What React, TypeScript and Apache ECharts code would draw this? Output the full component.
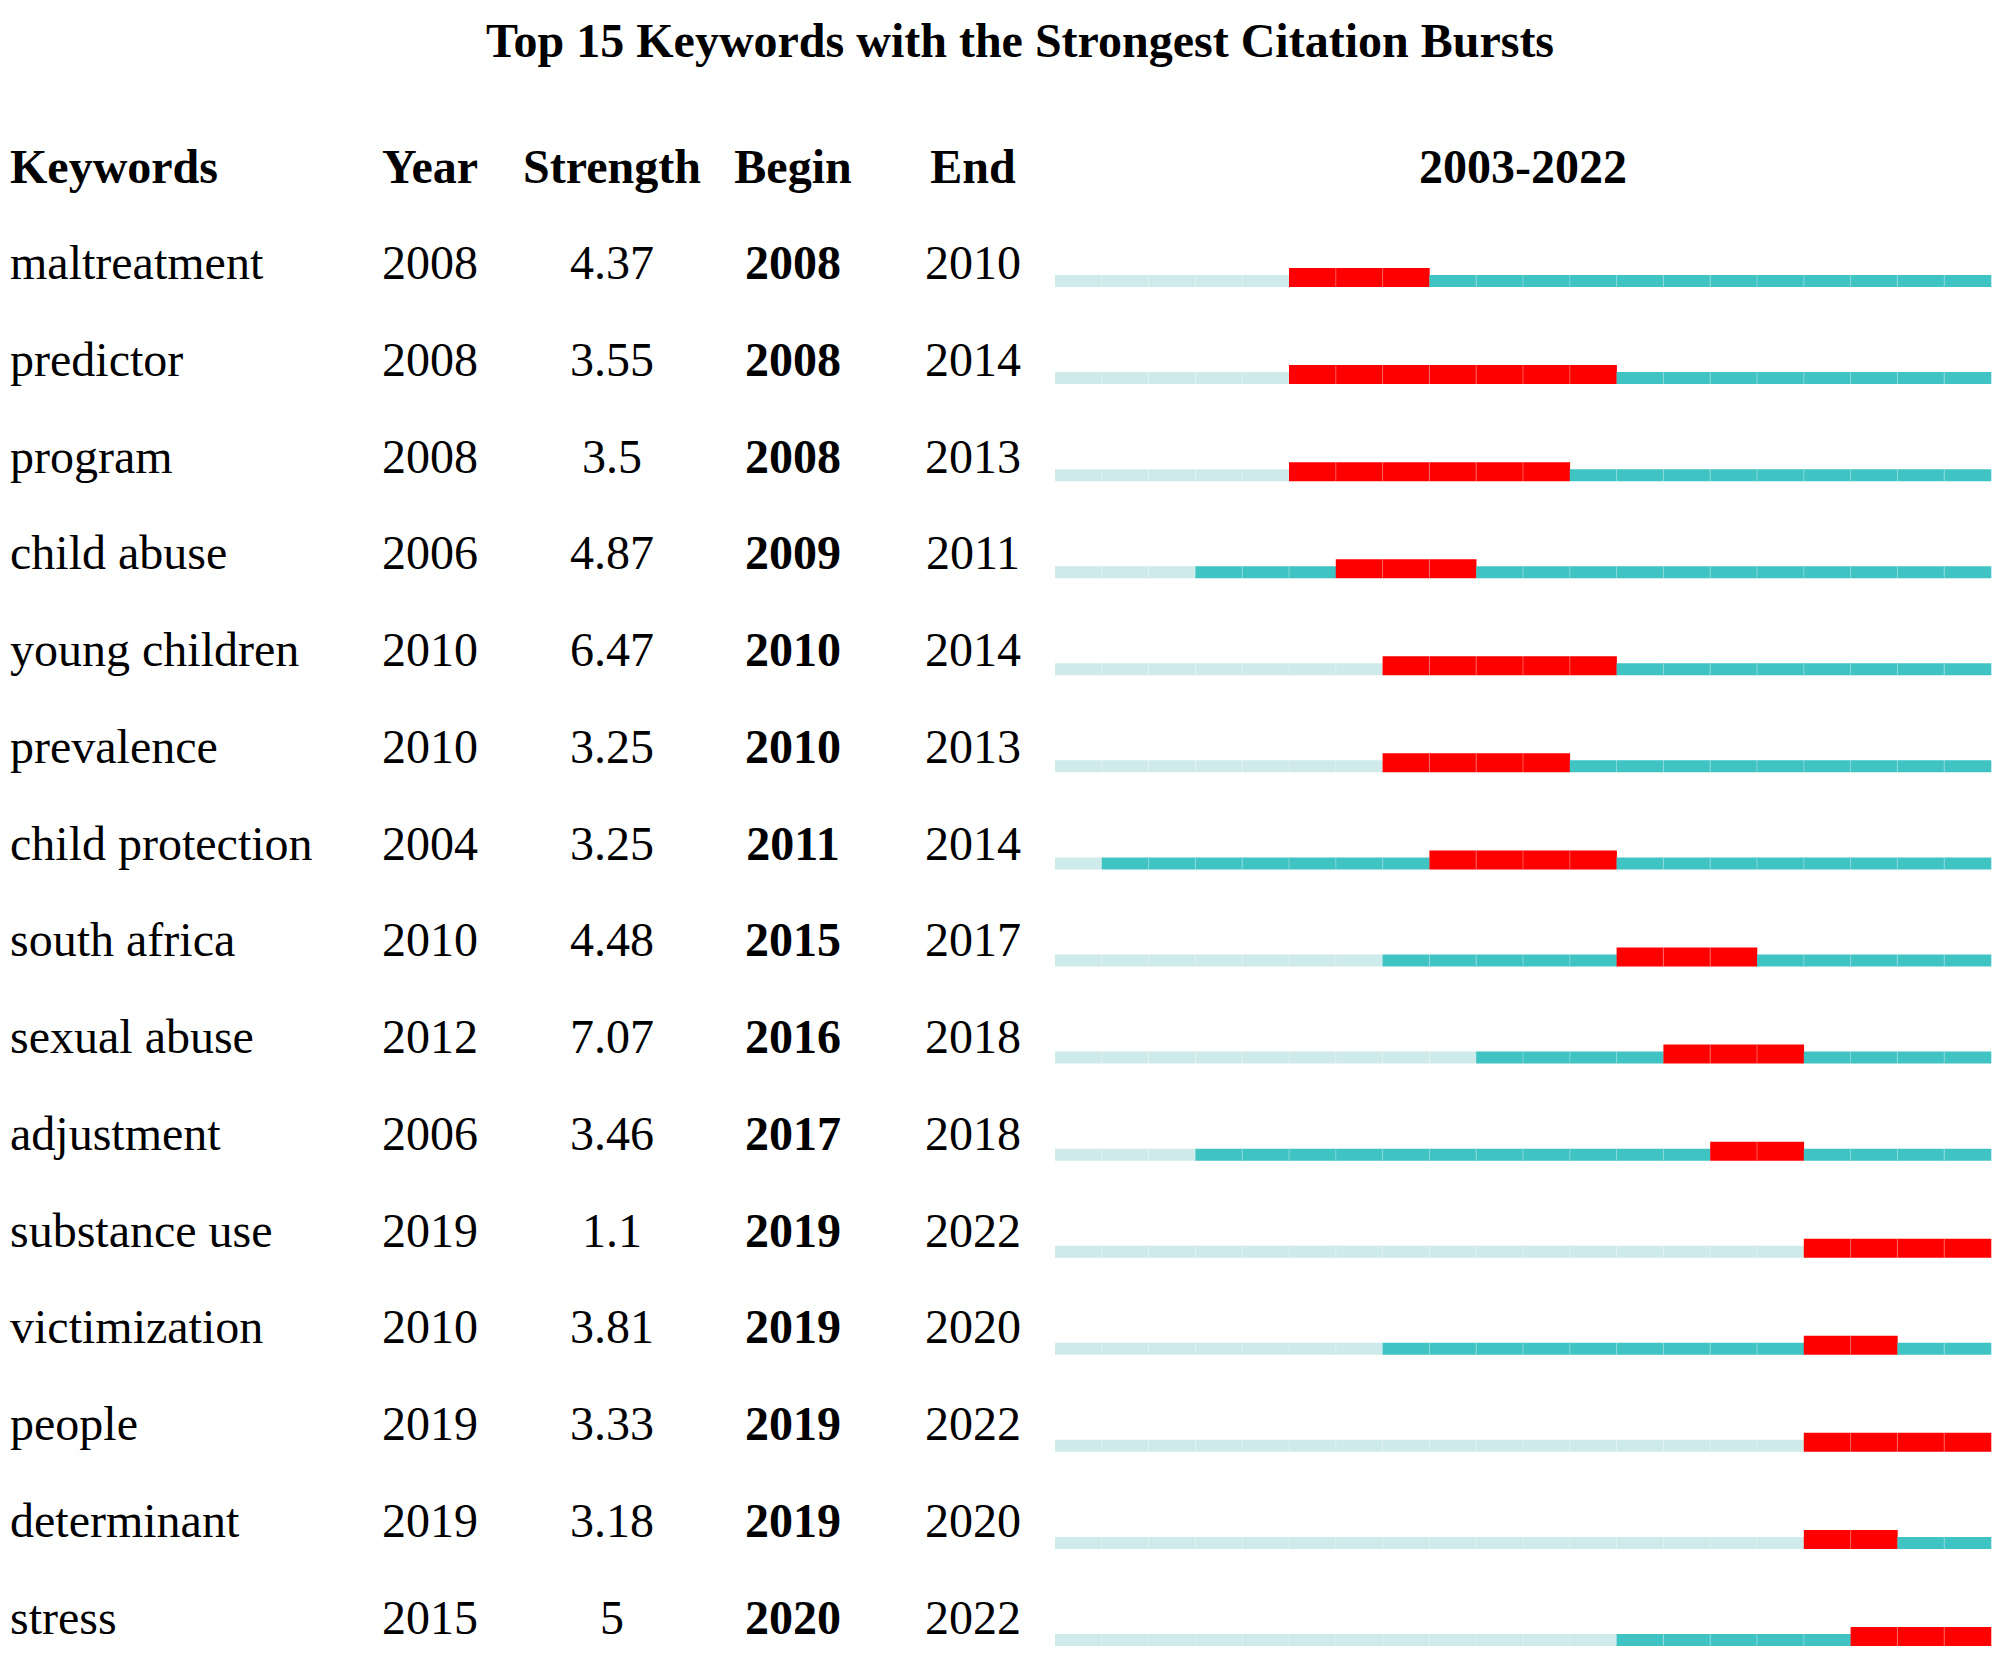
import React, { useEffect, useRef } from "react";
import * as echarts from "echarts";

const TITLE = "Top 15 Keywords with the Strongest Citation Bursts";
const HEADERS = ["Keywords", "Year", "Strength", "Begin", "End"];
const RANGE_LABEL = "2003-2022";
const YEAR_START = 2003;
const YEAR_END = 2022;

const keywords = [
  "maltreatment",
  "predictor",
  "program",
  "child abuse",
  "young children",
  "prevalence",
  "child protection",
  "south africa",
  "sexual abuse",
  "adjustment",
  "substance use",
  "victimization",
  "people",
  "determinant",
  "stress",
];
const years = [2008, 2008, 2008, 2006, 2010, 2010, 2004, 2010, 2012, 2006, 2019, 2010, 2019, 2019, 2015];
const strengths = [4.37, 3.55, 3.5, 4.87, 6.47, 3.25, 3.25, 4.48, 7.07, 3.46, 1.1, 3.81, 3.33, 3.18, 5];
const begins = [2008, 2008, 2008, 2009, 2010, 2010, 2011, 2015, 2016, 2017, 2019, 2019, 2019, 2019, 2020];
const ends = [2010, 2014, 2013, 2011, 2014, 2013, 2014, 2017, 2018, 2018, 2022, 2020, 2022, 2020, 2022];

const FONT = '"Liberation Serif", "Times New Roman", serif';
const RED = "#ff0000";
const TEAL = "#3fc3c3";
const LIGHT = "#cfeaea";
const FS = 48;

export default function App() {
  const ref = useRef<HTMLDivElement>(null);
  useEffect(() => {
    document.body.style.margin = "0";
    if (!ref.current) return;
    const chart = echarts.init(ref.current, null, { renderer: "svg" });

    const headerY = 166;
    const lastTextY = 1617;
    const firstBarY = 281;
    const lastBarY = 1640;
    const gridLeft = 1055;
    const gridRight = 9;

    const textAxis = (
      header: string,
      values: string[],
      center: number,
      align: string,
      boldAll: boolean
    ) => ({
      type: "category",
      gridIndex: 0,
      position: "left",
      inverse: true,
      boundaryGap: false,
      offset: gridLeft - center,
      data: [header, ...values],
      axisLine: { show: false },
      axisTick: { show: false },
      splitLine: { show: false },
      axisLabel: {
        show: true,
        interval: 0,
        margin: 0,
        align,
        verticalAlign: "middle",
        color: "#000",
        fontFamily: FONT,
        fontSize: FS,
        fontWeight: boldAll ? "bold" : "normal",
        formatter: (v: string, i: number) => (i === 0 ? `{h|${v}}` : v),
        rich: {
          h: { fontFamily: FONT, fontSize: FS, fontWeight: "bold", color: "#000" },
        },
      },
    });

    const option: any = {
      animation: false,
      backgroundColor: "#ffffff",
      title: {
        text: TITLE,
        left: 1020,
        top: 16,
        padding: 0,
        textAlign: "center",
        textStyle: { fontFamily: FONT, fontSize: FS, fontWeight: "bold", color: "#000" },
      },
      grid: [
        { left: gridLeft, right: gridRight, top: headerY, height: lastTextY - headerY },
        { left: gridLeft, right: gridRight, top: firstBarY, height: lastBarY - firstBarY },
      ],
      xAxis: [
        { type: "value", gridIndex: 0, show: false, min: 0, max: 1 },
        {
          type: "value",
          gridIndex: 1,
          min: YEAR_START,
          max: YEAR_END + 1,
          position: "top",
          name: RANGE_LABEL,
          nameLocation: "middle",
          nameGap: firstBarY - headerY,
          nameTextStyle: {
            fontFamily: FONT,
            fontSize: FS,
            fontWeight: "bold",
            color: "#000",
            verticalAlign: "middle",
          },
          axisLine: { show: false },
          axisTick: { show: false },
          axisLabel: { show: false },
          splitLine: { show: false },
        },
      ],
      yAxis: [
        textAxis(HEADERS[0], keywords, 10, "left", false),
        textAxis(HEADERS[1], years.map(String), 430, "center", false),
        textAxis(HEADERS[2], strengths.map(String), 612, "center", false),
        textAxis(HEADERS[3], begins.map(String), 793, "center", true),
        textAxis(HEADERS[4], ends.map(String), 973, "center", false),
        {
          type: "category",
          gridIndex: 1,
          inverse: true,
          boundaryGap: false,
          data: keywords,
          show: false,
        },
      ],
      series: [
        {
          type: "custom",
          xAxisIndex: 1,
          yAxisIndex: 5,
          encode: { x: 0, y: 1 },
          data: keywords.map((k, i) => [years[i], k, begins[i], ends[i]]),
          renderItem: (params: any, api: any) => {
            const start = api.value(0);
            const row = api.value(1);
            const b = api.value(2);
            const e = api.value(3);
            const children: any[] = [];
            let prevColor = "";
            for (let y = YEAR_START; y <= YEAR_END; y++) {
              const p0 = api.coord([y, row]);
              const p1 = api.coord([y + 1, row]);
              const isRed = y >= b && y <= e;
              const color = isRed ? RED : y < start ? LIGHT : TEAL;
              const h = isRed ? 19 : 12;
              const bottom = p0[1] + 6;
              children.push({
                type: "rect",
                shape: { x: p0[0], y: bottom - h, width: p1[0] - p0[0] + 0.3, height: h },
                style: { fill: color },
              });
              if (y > YEAR_START && color === prevColor) {
                children.push({
                  type: "line",
                  shape: { x1: p0[0], y1: bottom - h, x2: p0[0], y2: bottom },
                  style: { stroke: "rgba(255,255,255,0.35)", lineWidth: 1 },
                });
              }
              prevColor = color;
            }
            return { type: "group", children };
          },
        },
      ],
    };
    chart.setOption(option);
    return () => chart.dispose();
  }, []);
  return <div ref={ref} style={{ width: 2000, height: 1661 }} />;
}
